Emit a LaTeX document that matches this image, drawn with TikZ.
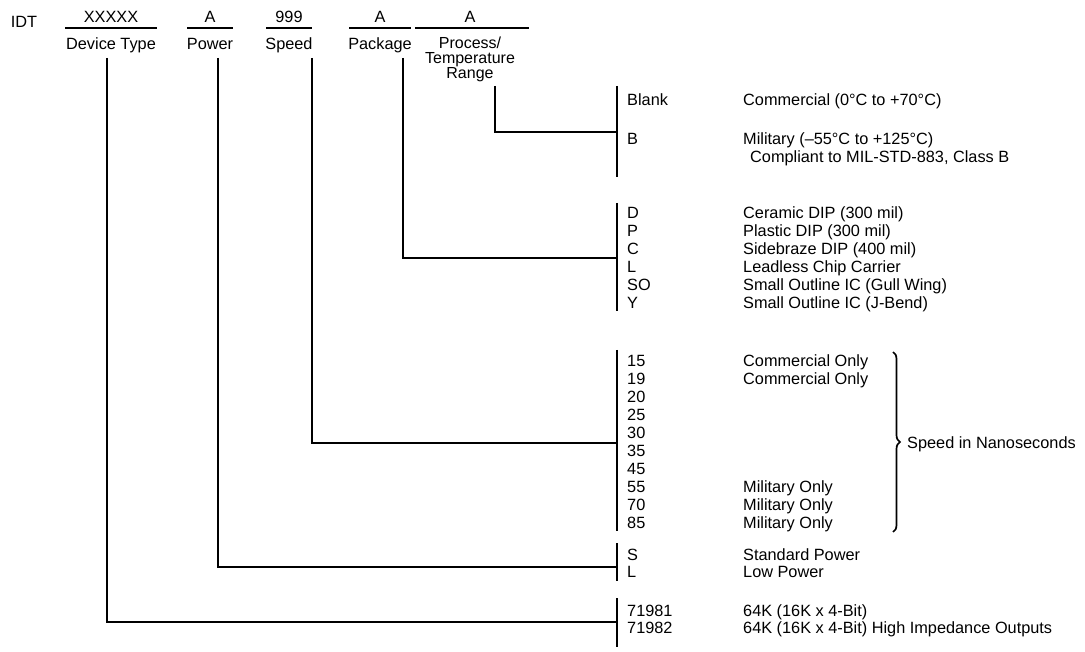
\documentclass[tikz,border=0pt]{standalone}
\usepackage{fontspec}
\setmainfont{Liberation Sans}
\usetikzlibrary{positioning,decorations.pathreplacing}

\begin{document}
\begin{tikzpicture}[x=1pt,y=-1pt,
  txt/.style={inner sep=0pt, text height=11.5pt, text depth=0pt,
    font=\fontsize{16.3}{18}\selectfont},
  code/.style={txt, anchor=west},
  desc/.style={txt, anchor=west},
  field/.style={txt, anchor=center},
  rule/.style={line width=1.3pt},
  conn/.style={line width=1.8pt, line join=miter},
  bar/.style={line width=2.2pt},
]
\useasboundingbox (0,0) rectangle (1085,652);

% header fields
\node[field] (idt) at (24,22) {IDT};
\foreach \nm/\x/\w/\sym/\lbl in {dev/111/92/XXXXX/Device Type,
    pwr/210/46/A/Power, spd/289/46/999/Speed, pkg/380/62/A/Package}{
  \node[field] (\nm sym) at (\x,17) {\sym};
  \node[field] (\nm lbl) at (\x,44) {\lbl};
  \draw[rule] (\x-\w/2,28) -- (\x+\w/2,28);
}
\node[field] (procsym) at (470,17) {A};
\node[inner sep=0pt, align=center, anchor=north,
  font=\fontsize{16}{15}\selectfont] (proclbl) at (470,37)
  {Process/\\Temperature\\Range};
\draw[rule] (415,28) -- (529,28);

% process / temperature range
\draw[bar] (617,86) -- (617,177);
\node[code] (blank) at (627,100) {Blank};
\node[desc] (blankd) at (743,100) {Commercial (0°C to +70°C)};
\node[code] (mil) at (627,139) {B};
\node[desc] (mild) at (743,139) {Military (–55°C to +125°C)};
\node[desc] (mild2) at (750,157) {Compliant to MIL-STD-883, Class B};

% package
\draw[bar] (617,203) -- (617,311);
\foreach \c/\d [count=\i from 0] in {D/Ceramic DIP (300 mil),
    P/Plastic DIP (300 mil), C/Sidebraze DIP (400 mil),
    L/Leadless Chip Carrier, SO/Small Outline IC (Gull Wing),
    Y/Small Outline IC (J-Bend)}{
  \node[code] (pkg\i) at (627,213+18*\i) {\c};
  \node[desc] (pkgd\i) at (743,213+18*\i) {\d};
}

% speed
\draw[bar] (617,350) -- (617,531);
\foreach \c/\d [count=\i from 0] in {15/Commercial Only, 19/Commercial Only,
    20/, 25/, 30/, 35/, 45/, 55/Military Only, 70/Military Only,
    85/Military Only}{
  \node[code] (spd\i) at (627,361+18*\i) {\c};
  \node[desc] (spdd\i) at (743,361+18*\i) {\d};
}
\draw[decorate, decoration={brace, amplitude=7pt}, line width=1.7pt]
  (893,352) -- (893,532);
\node[desc] (nsec) at (907,443) {Speed in Nanoseconds};

% power
\draw[bar] (617,543) -- (617,581);
\node[code] (std) at (627,555) {S};
\node[desc] (stdd) at (743,555) {Standard Power};
\node[code] (low) at (627,572) {L};
\node[desc] (lowd) at (743,572) {Low Power};

% device type
\draw[bar] (617,598) -- (617,647);
\node[code] (d81) at (627,611) {71981};
\node[desc] (d81d) at (743,611) {64K (16K x 4-Bit)};
\node[code] (d82) at (627,628) {71982};
\node[desc] (d82d) at (743,628) {64K (16K x 4-Bit) High Impedance Outputs};

% connectors
\coordinate (devs) at (107,58);  \coordinate (devj) at (617,622);
\coordinate (pwrs) at (218,58);  \coordinate (pwrj) at (617,567);
\coordinate (spds) at (312,58);  \coordinate (spdj) at (617,443);
\coordinate (pkgs) at (403,58);  \coordinate (pkgj) at (617,258);
\coordinate (procs) at (495,86); \coordinate (procj) at (617,132);
\foreach \nm in {dev,pwr,spd,pkg,proc}
  \draw[conn] (\nm s) |- (\nm j);
\end{tikzpicture}
\end{document}
